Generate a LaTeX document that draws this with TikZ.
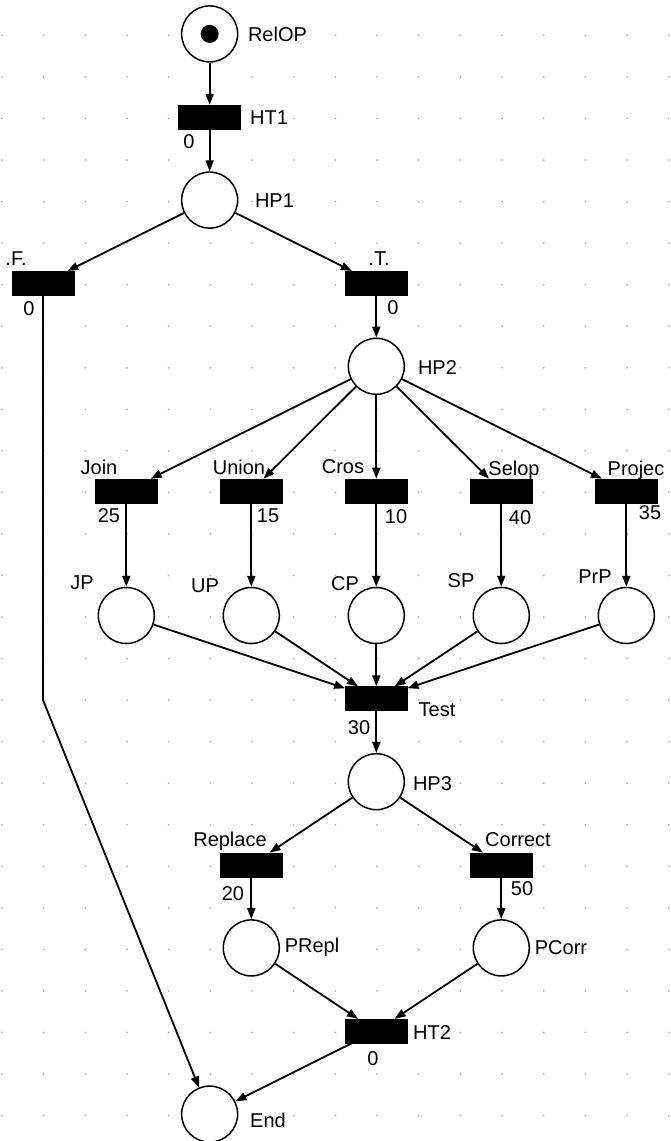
\documentclass[tikz,border=0pt]{standalone}
\usepackage{fontspec}
\setmainfont{Liberation Sans}
\usetikzlibrary{arrows.meta}
\begin{document}
\begin{tikzpicture}[x=1pt,y=-1pt,
  place/.style={circle, draw, line width=1.5pt, fill=white, minimum size=56pt, inner sep=0},
  trans/.style={rectangle, fill=black, draw=black, minimum width=62pt, minimum height=24pt, inner sep=0},
  arc/.style={line width=1.8pt, -{Triangle[length=11pt,width=8pt]}},
  lbl/.style={inner sep=0, anchor=base, font=\fontsize{20}{24}\selectfont},
  token/.style={circle, fill=black, minimum size=18pt, inner sep=0},
  griddot/.style={fill=gray!60}
]
\useasboundingbox (0,0) rectangle (671,1141);
\foreach \i in {0,...,16} {
  \foreach \j in {0,...,26} {
    \fill[griddot] ({2+41.67*\i},{35.4+41.545*\j}) circle (1pt);
  }
}
% places and transitions
\node[place] (RelOP) at (209.65,33.9) {};
\node[token] (tok) at (209.65,33.9) {};
\node[trans] (HT1) at (209.65,117.0) {};
\node[place] (HP1) at (209.65,200.1) {};
\node[trans] (F) at (43,283.2) {};
\node[trans] (T) at (376.3,283.2) {};
\node[place] (HP2) at (376.3,366.3) {};
\node[trans] (Join) at (126.3,490.9) {};
\node[trans] (Union) at (251.3,490.9) {};
\node[trans] (Cros) at (376.3,490.9) {};
\node[trans] (Selop) at (501.3,490.9) {};
\node[trans] (Projec) at (626.35,490.9) {};
\node[place] (JP) at (126.3,615.5) {};
\node[place] (UP) at (251.3,615.5) {};
\node[place] (CP) at (376.3,615.5) {};
\node[place] (SP) at (501.3,615.5) {};
\node[place] (PrP) at (626.35,615.5) {};
\node[trans] (Test) at (376.3,698.6) {};
\node[place] (HP3) at (376.3,781.7) {};
\node[trans] (Replace) at (251.3,864.8) {};
\node[trans] (Correct) at (501.3,864.8) {};
\node[place] (PRepl) at (251.3,947.9) {};
\node[place] (PCorr) at (501.3,947.9) {};
\node[trans] (HT2) at (376.3,1031.0) {};
\node[place] (End) at (209.65,1114.1) {};
\coordinate (bend) at (43,700);
% arcs
\draw[arc] (RelOP) -- (HT1);
\draw[arc] (HT1) -- (HP1);
\draw[arc] (HP1) -- (F);
\draw[arc] (HP1) -- (T);
\draw[arc] (T) -- (HP2);
\foreach \t in {Join,Union,Cros,Selop,Projec} \draw[arc] (HP2) -- (\t);
\draw[arc] (Join) -- (JP);
\draw[arc] (Union) -- (UP);
\draw[arc] (Cros) -- (CP);
\draw[arc] (Selop) -- (SP);
\draw[arc] (Projec) -- (PrP);
\foreach \p in {JP,UP,CP,SP,PrP} \draw[arc] (\p) -- (Test);
\draw[arc] (Test) -- (HP3);
\draw[arc] (HP3) -- (Replace);
\draw[arc] (HP3) -- (Correct);
\draw[arc] (Replace) -- (PRepl);
\draw[arc] (Correct) -- (PCorr);
\draw[arc] (PRepl) -- (HT2);
\draw[arc] (PCorr) -- (HT2);
\draw[arc] (HT2) -- (End);
\draw[arc] (F) -- (bend) -- (End);
% labels
\node[lbl] (lRelOP) at (277.5,41) {RelOP};
\node[lbl] (lHT1) at (269,124) {HT1};
\node[lbl] (wHT1) at (189,148) {0};
\node[lbl] (lHP1) at (274.5,207) {HP1};
\node[lbl] (lF) at (16,265) {.F.};
\node[lbl] (lT) at (379,265) {.T.};
\node[lbl] (wF) at (29,315) {0};
\node[lbl] (wT) at (393,314) {0};
\node[lbl] (lHP2) at (437.5,374) {HP2};
\node[lbl] (lJoin) at (99,474) {Join};
\node[lbl] (lUnion) at (239,474) {Union};
\node[lbl] (lCros) at (343,473) {Cros};
\node[lbl] (lSelop) at (514,475) {Selop};
\node[lbl] (lProjec) at (636,475) {Projec};
\node[lbl] (wJoin) at (109,522) {25};
\node[lbl] (wUnion) at (268,522) {15};
\node[lbl] (wCros) at (396,523) {10};
\node[lbl] (wSelop) at (520,524) {40};
\node[lbl] (wProjec) at (650,519) {35};
\node[lbl] (lJP) at (82,589) {JP};
\node[lbl] (lUP) at (205,592) {UP};
\node[lbl] (lCP) at (345,590) {CP};
\node[lbl] (lSP) at (461,587) {SP};
\node[lbl] (lPrP) at (595,583) {PrP};
\node[lbl] (lTest) at (437,716) {Test};
\node[lbl] (wTest) at (359,734) {30};
\node[lbl] (lHP3) at (432.5,790) {HP3};
\node[lbl] (lReplace) at (230,846) {Replace};
\node[lbl] (lCorrect) at (518,846) {Correct};
\node[lbl] (wReplace) at (233,900) {20};
\node[lbl] (wCorrect) at (522,895) {50};
\node[lbl] (lPRepl) at (312,952) {PRepl};
\node[lbl] (lPCorr) at (561,954) {PCorr};
\node[lbl] (lHT2) at (432,1039) {HT2};
\node[lbl] (wHT2) at (373,1065) {0};
\node[lbl] (lEnd) at (268,1127) {End};
\end{tikzpicture}
\end{document}
